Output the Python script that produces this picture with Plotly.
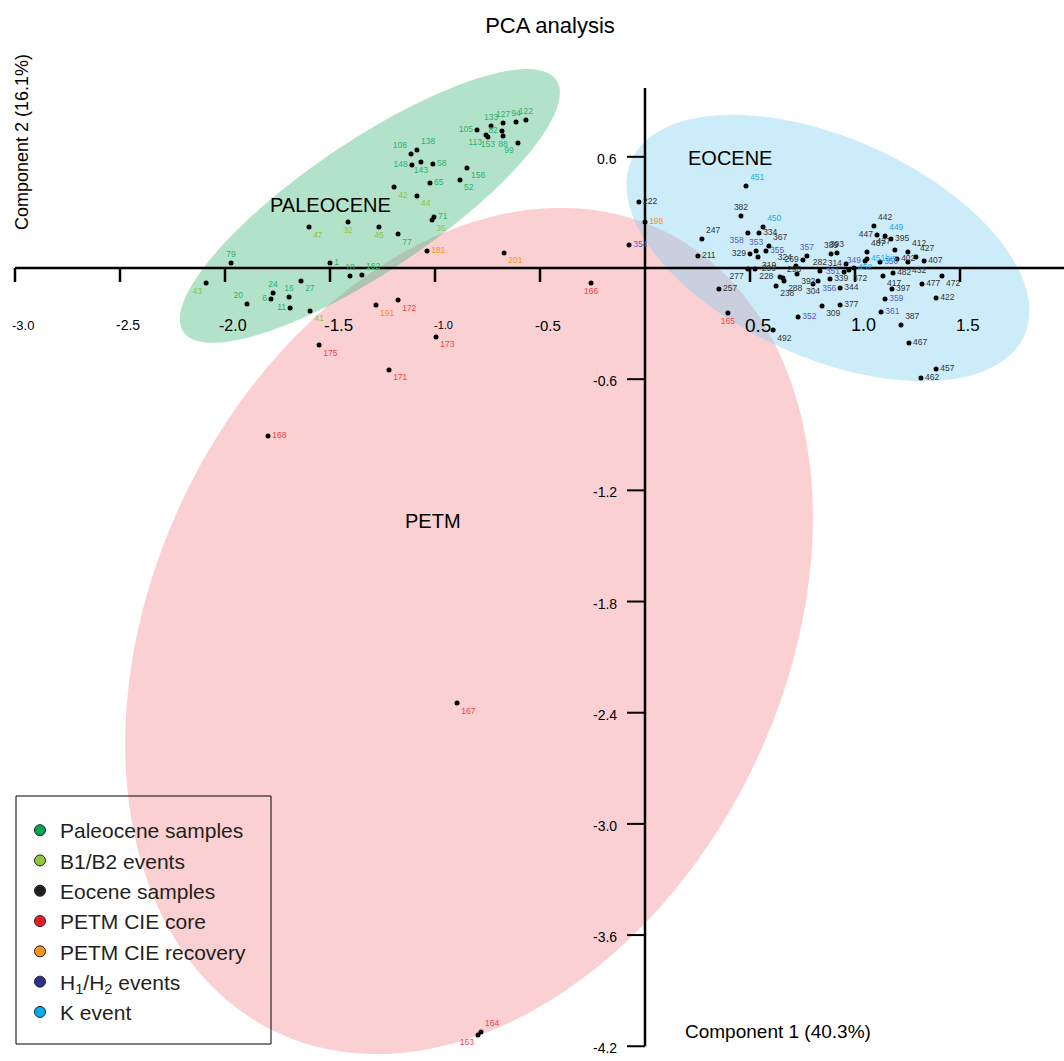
import numpy as np
import plotly.graph_objects as go

# ---------------- data ----------------
pal_labels = ["79", "1", "18", "162", "24", "6", "16", "20", "11", "27", "105", "133", "127", "94", "122",
              "82", "113", "153", "88", "99", "108", "138", "148", "143", "58", "158", "65", "52", "71", "77"]
pal_x = [-1.971, -1.500, -1.405, -1.348, -1.771, -1.781, -1.695, -1.895, -1.690, -1.638, -0.800, -0.733, -0.676,
         -0.614, -0.567, -0.681, -0.757, -0.748, -0.676, -0.605, -1.114, -1.086, -1.110, -1.067, -1.010, -0.848,
         -1.024, -0.881, -1.005, -1.176]
pal_y = [0.027, 0.027, -0.043, -0.038, -0.135, -0.167, -0.157, -0.194, -0.216, -0.070, 0.745, 0.766, 0.783,
         0.788, 0.799, 0.739, 0.718, 0.707, 0.712, 0.675, 0.615, 0.637, 0.556, 0.572, 0.561, 0.540, 0.459,
         0.475, 0.275, 0.183]

b_labels = ["43", "41", "47", "32", "45", "42", "44", "36"]
b_x = [-2.090, -1.595, -1.600, -1.414, -1.267, -1.195, -1.086, -1.014]
b_y = [-0.081, -0.232, 0.221, 0.248, 0.221, 0.437, 0.389, 0.259]

core_labels = ["166", "165", "172", "175", "173", "171", "168", "167", "164", "163"]
core_x = [-0.257, 0.395, -1.176, -1.552, -0.995, -1.219, -1.795, -0.895, -0.781, -0.795]
core_y = [-0.081, -0.243, -0.173, -0.416, -0.372, -0.550, -0.907, -2.348, -4.123, -4.139]

rec_labels = ["181", "201", "191", "198"]
rec_x = [-1.038, -0.671, -1.281, 0.000]
rec_y = [0.092, 0.081, -0.200, 0.248]

h_labels = ["354", "358", "353", "355", "357", "351", "356", "352", "349", "350", "359", "361"]
h_x = [-0.076, 0.490, 0.529, 0.576, 0.771, 0.948, 0.824, 0.729, 1.048, 1.119, 1.143, 1.124]
h_y = [0.124, 0.189, 0.092, 0.092, 0.065, -0.022, -0.070, -0.264, 0.038, 0.032, -0.167, -0.237]

k_labels = ["451", "450", "449", "451bis", "452"]
k_x = [0.481, 0.562, 1.143, 1.057, 0.995]
k_y = [0.443, 0.221, 0.173, 0.049, 0.000]

eoc_labels = ["222", "247", "211", "257", "382", "334", "367", "329", "319", "269", "324", "277", "228",
              "299", "293", "288", "238", "392", "304", "492", "389", "393", "282", "314", "339", "372",
              "344", "309", "377", "487", "442", "447", "395", "437", "402", "412", "427", "432", "407",
              "482", "417", "477", "472", "397", "422", "387", "467", "457", "462"]
eoc_x = [-0.029, 0.271, 0.252, 0.352, 0.457, 0.543, 0.590, 0.500, 0.538, 0.752, 0.719, 0.490, 0.524,
         0.643, 0.657, 0.662, 0.624, 0.724, 0.800, 0.610, 0.886, 0.914, 0.833, 0.957, 0.881, 0.971,
         0.929, 0.843, 0.929, 1.057, 1.090, 1.105, 1.171, 1.190, 1.200, 1.252, 1.290, 1.252, 1.329,
         1.181, 1.133, 1.319, 1.414, 1.176, 1.386, 1.219, 1.257, 1.386, 1.314]
eoc_y = [0.356, 0.157, 0.065, -0.113, 0.281, 0.189, 0.119, 0.076, 0.059, 0.043, 0.011, -0.005, -0.005,
         -0.049, -0.054, -0.070, -0.097, -0.032, -0.086, -0.335, 0.076, 0.081, -0.016, 0.022, -0.059, -0.011,
         -0.108, -0.205, -0.200, 0.086, 0.227, 0.178, 0.157, 0.097, 0.049, 0.086, 0.059, 0.032, 0.038,
         -0.027, -0.043, -0.086, -0.043, -0.113, -0.162, -0.308, -0.405, -0.545, -0.594]

x_tick_vals = [-3.0, -2.5, -2.0, -1.5, -1.0, -0.5, 0.5, 1.0, 1.5]
x_tick_text = ["-3.0", "-2.5", "-2.0", "-1.5", "-1.0", "-0.5", "0.5", "1.0", "1.5"]
y_tick_vals = [0.6, -0.6, -1.2, -1.8, -2.4, -3.0, -3.6, -4.2]
y_tick_text = ["0.6", "-0.6", "-1.2", "-1.8", "-2.4", "-3.0", "-3.6", "-4.2"]

legend_names = ["Paleocene samples", "B1/B2 events", "Eocene samples", "PETM CIE core",
                "PETM CIE recovery", "H<sub>1</sub>/H<sub>2</sub> events", "K event"]

# ---------------- styling ----------------
pal_pos = ["top center", "middle right", "top center", "top right", "top center", "middle left", "top center",
           "top left", "middle left", "bottom right", "middle left", "top center", "top center", "top center",
           "top center", "middle left", "bottom left", "bottom center", "bottom center", "bottom left",
           "top left", "top right", "middle left", "bottom center", "middle right", "bottom right",
           "middle right", "bottom right", "middle right", "bottom right"]
b_pos = ["bottom left", "bottom right", "bottom right", "bottom center", "bottom center", "bottom right",
         "bottom right", "bottom right"]
core_pos = ["bottom center", "bottom center", "bottom right", "bottom right", "bottom right", "bottom right",
            "middle right", "bottom right", "top right", "bottom left"]
rec_pos = ["middle right", "bottom right", "bottom right", "middle right"]
h_pos = ["middle right", "bottom left", "top center", "middle right", "top center", "middle left",
         "bottom right", "middle right", "middle left", "middle right", "middle right", "middle right"]
k_pos = ["top right", "top right", "top right", "middle right", "middle right"]
eoc_pos = ["middle right", "top right", "middle right", "middle right", "top center", "middle right", "top right",
           "middle left", "bottom right", "middle left", "top left", "bottom left", "bottom right", "top left",
           "top right", "bottom right", "bottom right", "bottom right", "bottom center", "bottom right",
           "top center", "top center", "top center", "middle left", "middle right", "bottom right",
           "middle right", "bottom right", "middle right", "top right", "top right", "middle left",
           "middle right", "top left", "middle right", "top right", "top right", "bottom right", "middle right",
           "middle right", "bottom right", "middle right", "bottom right", "middle right", "middle right",
           "top right", "middle right", "middle right", "middle right"]

label_colors = ["#2bb36c", "#8cc63f", "#333333", "#f0424b", "#f7941d", "#5a5ec2", "#1aaeea"]
legend_colors = ["#00a651", "#8dc63f", "#231f20", "#ed1c24", "#f7941d", "#2e3192", "#00aeef"]

W, H = 1064, 1061
XR = [-3.0714, 1.9952]
YR = [-4.2796, 1.4463]
KX = W / (XR[1] - XR[0])
KY = H / (YR[1] - YR[0])

fig = go.Figure()

groups = [(pal_labels, pal_x, pal_y, pal_pos), (b_labels, b_x, b_y, b_pos),
          (eoc_labels, eoc_x, eoc_y, eoc_pos), (core_labels, core_x, core_y, core_pos),
          (rec_labels, rec_x, rec_y, rec_pos), (h_labels, h_x, h_y, h_pos),
          (k_labels, k_x, k_y, k_pos)]

for (lab, xs, ys, pos), col in zip(groups, label_colors):
    fig.add_trace(go.Scatter(
        x=xs, y=ys, text=lab, mode="markers+text", textposition=pos,
        marker=dict(size=5, color="black"),
        textfont=dict(family="Arial", size=8.5, color=col),
        showlegend=False, cliponaxis=False, hoverinfo="text"))

for name, col in zip(legend_names, legend_colors):
    fig.add_trace(go.Scatter(
        x=[None], y=[None], mode="markers", name=name,
        marker=dict(size=11, color=col, line=dict(color="#222222", width=1))))


def ellipse_path(cx, cy, a, b, ang, n=160):
    t = np.linspace(0, 2 * np.pi, n)
    c, s = np.cos(np.radians(ang)), np.sin(np.radians(ang))
    ex, ey = a * np.cos(t), b * np.sin(t)
    xs = cx + (ex * c - ey * s) / KX
    ys = cy + (ex * s + ey * c) / KY
    return "M " + " L ".join(f"{x:.4f},{y:.4f}" for x, y in zip(xs, ys)) + " Z"


shapes = []
# ellipses (pink, green, blue)
for (cx, cy, a, b, ang), fill in [((-0.838, -1.959, 445, 315, 64), "rgba(238,108,118,0.32)"),
                                  ((-1.310, 0.335, 225, 65, 34), "rgba(56,180,115,0.38)"),
                                  ((0.871, 0.108, 215, 110, -24), "rgba(120,205,240,0.38)")]:
    shapes.append(dict(type="path", path=ellipse_path(cx, cy, a, b, ang), xref="x", yref="y",
                       fillcolor=fill, line=dict(width=0), layer="below"))

# axis lines crossing at origin
shapes.append(dict(type="line", xref="x", yref="y", x0=-3.0, x1=2.0, y0=0, y1=0,
                   line=dict(color="black", width=2.5), layer="below"))
shapes.append(dict(type="line", xref="x", yref="y", x0=0, x1=0, y0=-4.2, y1=0.971,
                   line=dict(color="black", width=2.5), layer="below"))
for v in x_tick_vals:
    shapes.append(dict(type="line", xref="x", yref="y", x0=v, x1=v, y0=0, y1=-14 / KY,
                       line=dict(color="black", width=2.5), layer="below"))
for v in y_tick_vals:
    shapes.append(dict(type="line", xref="x", yref="y", x0=0, x1=-18 / KX, y0=v, y1=v,
                       line=dict(color="black", width=2), layer="below"))

# legend frame
shapes.append(dict(type="rect", xref="paper", yref="paper", x0=16 / W, x1=271 / W,
                   y0=1 - 1044 / H, y1=1 - 796 / H, line=dict(color="black", width=1)))

annotations = []
x_label_sizes = [13, 14, 16, 17, 11, 15, 19, 18, 17]
for v, t, fs in zip(x_tick_vals, x_tick_text, x_label_sizes):
    annotations.append(dict(x=v, y=-57 / KY, xref="x", yref="y", text=t, showarrow=False,
                            xshift=8, font=dict(family="Arial", size=fs, color="black")))
for v, t in zip(y_tick_vals, y_tick_text):
    annotations.append(dict(x=0, y=v, xref="x", yref="y", text=t, showarrow=False, xanchor="right",
                            xshift=-26, yshift=-2, font=dict(family="Arial", size=14, color="black")))

for t, x, y in [("PALEOCENE", -1.5, 0.34), ("EOCENE", 0.405, 0.594), ("PETM", -1.01, -1.365)]:
    annotations.append(dict(x=x, y=y, xref="x", yref="y", text=t, showarrow=False,
                            font=dict(family="Arial", size=20, color="black")))

annotations.append(dict(x=22 / W, y=1 - 142 / H, xref="paper", yref="paper", text="Component 2 (16.1%)",
                        textangle=-90, showarrow=False, xanchor="center", yanchor="middle",
                        font=dict(family="Arial", size=18, color="black")))
annotations.append(dict(x=778 / W, y=1 - 1031 / H, xref="paper", yref="paper", text="Component 1 (40.3%)",
                        showarrow=False, xanchor="center", yanchor="middle",
                        font=dict(family="Arial", size=19, color="black")))

fig.update_layout(
    width=W, height=H, margin=dict(l=0, r=0, t=0, b=0),
    paper_bgcolor="white", plot_bgcolor="white",
    title=dict(text="PCA analysis", x=550 / W, y=1 - 25 / H, xanchor="center", yanchor="middle",
               font=dict(family="Arial", size=22, color="black")),
    xaxis=dict(range=XR, visible=False, fixedrange=True),
    yaxis=dict(range=YR, visible=False, fixedrange=True),
    shapes=shapes, annotations=annotations,
    legend=dict(x=20 / W, y=1 - 810 / H, xanchor="left", yanchor="top", bgcolor="rgba(0,0,0,0)",
                borderwidth=0, font=dict(family="Arial", size=21, color="#231f20"), tracegroupgap=0),
    showlegend=True,
)

fig.write_html("out.html")
